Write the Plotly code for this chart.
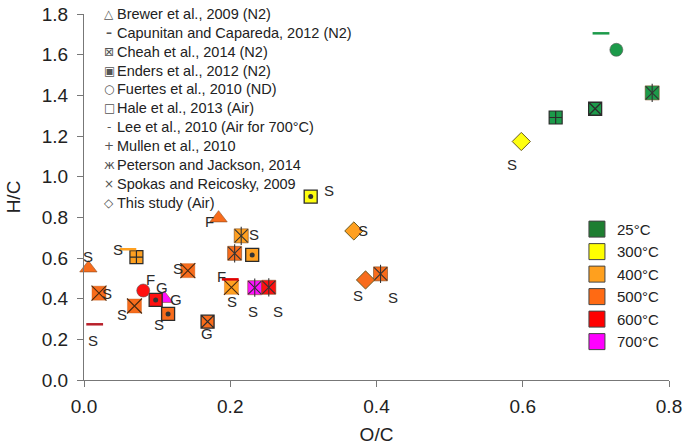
import plotly.graph_objects as go

# ---------------- data ----------------
TEMPS = [25, 300, 400, 500, 600, 700]
TEMP_LABELS = ["25°C", "300°C", "400°C", "500°C", "600°C", "700°C"]

brewer_x = [0.006, 0.184, 0.110]
brewer_y = [0.55, 0.796, 0.40]
brewer_t = [500, 500, 700]
brewer_lbl = ["S", "F", "G"]

capunitan_x = [0.707]
capunitan_y = [1.705]
capunitan_t = [25]

cheah_x = [0.699, 0.169]
cheah_y = [1.334, 0.287]
cheah_t = [25, 500]
cheah_lbl = ["", "G"]

enders_x = [0.310, 0.230, 0.098, 0.115]
enders_y = [0.902, 0.615, 0.394, 0.325]
enders_t = [300, 400, 600, 500]
enders_lbl = ["S", "", "G", "S"]

fuertes_x = [0.728, 0.081]
fuertes_y = [1.624, 0.440]
fuertes_t = [25, 600]
fuertes_lbl = ["", "F"]

lee_x = [0.060, 0.0146, 0.200]
lee_y = [0.643, 0.274, 0.495]
lee_t = [400, 600, 600]
lee_lbl = ["S", "S", "F"]

mullen_x = [0.645, 0.0717]
mullen_y = [1.291, 0.604]
mullen_t = [25, 400]

peterson_x = [0.777, 0.215, 0.206, 0.2335, 0.2527, 0.4055]
peterson_y = [1.412, 0.709, 0.623, 0.454, 0.456, 0.522]
peterson_t = [25, 400, 500, 700, 600, 500]
peterson_lbl = ["", "S", "", "S", "S", "S"]

spokas_x = [0.0205, 0.069, 0.142, 0.2016]
spokas_y = [0.427, 0.364, 0.538, 0.456]
spokas_t = [500, 500, 500, 400]
spokas_lbl = ["S", "S", "S", "S"]

study_x = [0.598, 0.369, 0.385]
study_y = [1.173, 0.733, 0.492]
study_t = [300, 400, 500]
study_lbl = ["S", "S", "S"]

LEGEND_TEXT = [
    "Brewer et al., 2009 (N2)",
    "Capunitan and Capareda, 2012 (N2)",
    "Cheah et al., 2014 (N2)",
    "Enders et al., 2012 (N2)",
    "Fuertes et al., 2010 (ND)",
    "Hale et al., 2013 (Air)",
    "Lee et al., 2010 (Air for 700°C)",
    "Mullen et al., 2010",
    "Peterson and Jackson, 2014",
    "Spokas and Reicosky, 2009",
    "This study (Air)",
]
LEGEND_SYMBOLS = ["△", "<b>–</b>", "⊠", "▣", "○", "□", "-", "+", "ж", "×", "◇"]

# ---------------- style ----------------
COLORS = {25: "#1C9A4A", 300: "#FFFF10", 400: "#FFA020", 500: "#F86C1C",
          600: "#FF1010", 700: "#FF10FF"}
SWATCH = {25: "#1E7E31", 300: "#FFFF00", 400: "#FFA01E", 500: "#FF6A13",
          600: "#FF0000", 700: "#FF00FF"}
EDGE = "#333333"
FONT = "Liberation Sans, Arial, sans-serif"

# label offsets (pixels) relative to each marker
OFF = {
    "brewer": [(0, 12), (-9, -3), (12, -1)],
    "cheah": [(0, 0), (-1, -12)],
    "enders": [(18, 6), (0, 0), (6, 12), (-9, -11)],
    "fuertes": [(0, 0), (7, 11)],
    "lee": [(-10, 0), (-2, -16), (-9, 3)],
    "peterson": [(0, 0), (13, 1), (0, 0), (-2, -24), (9, -24), (12, -24)],
    "spokas": [(8, 0), (-12, -9), (-10, 2), (1, -14)],
    "study": [(-9, -23), (9, 0), (-8, -16)],
}

fig = go.Figure()
annotations = []


def cols(ts):
    return [COLORS[t] for t in ts]


def base(x, y, t, symbol, size, lw=1.0, lc=EDGE):
    fig.add_trace(go.Scatter(
        x=x, y=y, mode="markers", showlegend=False, cliponaxis=False,
        hoverinfo="x+y",
        marker=dict(symbol=symbol, size=size, color=cols(t),
                    line=dict(width=lw, color=lc))))


def overlay(x, y, symbol, size, lw=1.0, color=EDGE):
    fig.add_trace(go.Scatter(
        x=x, y=y, mode="markers", showlegend=False, cliponaxis=False,
        hoverinfo="skip",
        marker=dict(symbol=symbol, size=size, color=color,
                    line=dict(width=lw, color=color))))


def labels(x, y, lbl, offs):
    for xi, yi, li, (dx, dy) in zip(x, y, lbl, offs):
        if not li:
            continue
        annotations.append(dict(x=xi, y=yi, xref="x", yref="y", text=li,
                                showarrow=False, xanchor="center", yanchor="middle",
                                xshift=dx, yshift=dy,
                                font=dict(family=FONT, size=15, color="#2a2a2a")))


def dashes(x, y, colors):
    fig.add_trace(go.Scatter(
        x=x, y=y, mode="markers", showlegend=False, cliponaxis=False,
        marker=dict(symbol="line-ew-open", size=12, color=colors,
                    line=dict(width=2.5))))


# Brewer triangles
base(brewer_x, brewer_y, brewer_t, "triangle-up", 15, 0.6, "#8a4a20")
labels(brewer_x, brewer_y, brewer_lbl, OFF["brewer"])

# Capunitan dash
dashes(capunitan_x, capunitan_y, cols(capunitan_t))

# Cheah square-x
base(cheah_x, cheah_y, cheah_t, "square-x", 13, 1.3, "#2b2b2b")
labels(cheah_x, cheah_y, cheah_lbl, OFF["cheah"])

# Enders square with dot
base(enders_x, enders_y, enders_t, "square", 13, 1.3, "#2b2b2b")
overlay(enders_x, enders_y, "circle", 5, 0)
labels(enders_x, enders_y, enders_lbl, OFF["enders"])

# Fuertes circles
base(fuertes_x, fuertes_y, fuertes_t, "circle", 13, 0.6, "#555555")
labels(fuertes_x, fuertes_y, fuertes_lbl, OFF["fuertes"])

# Mullen square-cross
base(mullen_x, mullen_y, mullen_t, "square-cross", 13, 1.2, "#2b2b2b")

# Peterson square + zhe
base(peterson_x, peterson_y, peterson_t, "square", 14, 0.6, "#7a4a20")
overlay(peterson_x, peterson_y, "x-thin-open", 13, 1.1, "#333333")
overlay(peterson_x, peterson_y, "line-ns-open", 13, 1.1, "#333333")
labels(peterson_x, peterson_y, peterson_lbl, OFF["peterson"])

# Spokas square + x
base(spokas_x, spokas_y, spokas_t, "square", 14, 0.4, "#c06020")
overlay(spokas_x, spokas_y, "x-thin-open", 15, 1.1, "#4a2a10")
labels(spokas_x, spokas_y, spokas_lbl, OFF["spokas"])

# Lee dashes (drawn above squares)
dashes(lee_x, lee_y, ["#FFA020", "#B8202A", "#E00000"])
labels(lee_x, lee_y, lee_lbl, OFF["lee"])

# This study diamonds
base(study_x, study_y, study_t, "diamond", 14, 1.0, "#6a5a20")
labels(study_x, study_y, study_lbl, OFF["study"])

# temperature legend (legend2)
for t, name in zip(TEMPS, TEMP_LABELS):
    fig.add_trace(go.Scatter(
        x=[None], y=[None], mode="markers", name=name, legend="legend2",
        marker=dict(symbol="square", size=18, color=SWATCH[t],
                    line=dict(width=1, color="#444444"))))

# ---------------- layout ----------------
L, R, T, B = 84.3, 669.0, 14.3, 380.0


def px_x(p):
    return (p - L) / (R - L)


def px_y(p):
    return (B - p) / (B - T)


for i, (sym, txt) in enumerate(zip(LEGEND_SYMBOLS, LEGEND_TEXT)):
    yy = px_y(14.3 + 18.85 * i)
    annotations.append(dict(x=px_x(109.5), y=yy, xref="paper", yref="paper",
                            text=sym, showarrow=False, xanchor="center", yanchor="middle",
                            font=dict(family="DejaVu Sans, sans-serif", size=12, color="#555555")))
    annotations.append(dict(x=px_x(115.5), y=yy, xref="paper", yref="paper",
                            text=txt, showarrow=False, xanchor="left", yanchor="middle",
                            font=dict(family=FONT, size=14.5, color="#222222")))

axis_common = dict(
    showline=True, linecolor="#777777", linewidth=1.3, mirror=False,
    ticks="outside", ticklen=6, tickcolor="#777777", tickwidth=1.3,
    showgrid=False, zeroline=False, tickformat=".1f", automargin=False,
    tickfont=dict(family=FONT, size=19, color="#222222"),
)

fig.update_layout(
    width=685, height=445,
    margin=dict(l=L, r=685 - R, t=T, b=445 - B, autoexpand=False),
    paper_bgcolor="white", plot_bgcolor="white",
    xaxis=dict(range=[0, 0.8], dtick=0.2, ticklabelstandoff=3,
               title=dict(text="O/C", font=dict(family=FONT, size=19, color="#222222")),
               **axis_common),
    yaxis=dict(range=[0, 1.8], dtick=0.2, ticklabelstandoff=5,
               title=dict(text="H/C", font=dict(family=FONT, size=19, color="#222222")),
               **axis_common),
    legend2=dict(x=px_x(577), y=px_y(213), xref="paper", yref="paper",
                 xanchor="left", yanchor="top", bgcolor="rgba(0,0,0,0)",
                 font=dict(family=FONT, size=15, color="#222222"),
                 itemsizing="trace", tracegroupgap=0),
    showlegend=True,
    annotations=annotations,
)

fig.write_html("out.html", config={"displayModeBar": False},
               post_script="document.body.style.margin='0';document.body.style.overflow='hidden';")
